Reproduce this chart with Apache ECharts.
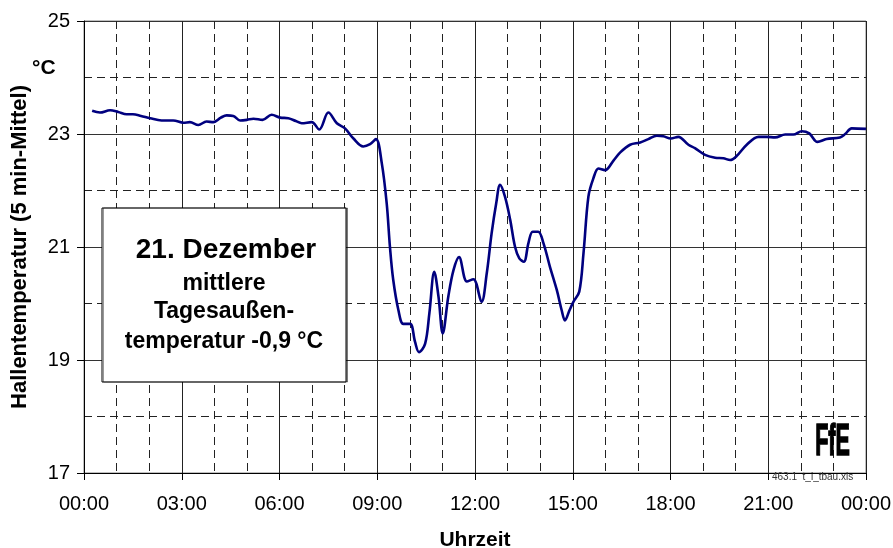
<!DOCTYPE html>
<html>
<head>
<meta charset="utf-8">
<script src="https://cdn.jsdelivr.net/npm/echarts@6/dist/echarts.min.js"></script>
<style>
  html, body { margin: 0; padding: 0; background: #fff; }
  #chart { width: 893px; height: 548px; }
</style>
</head>
<body>
<div id="chart"></div>
<script>
// Hall temperature on 21 December, 5-minute means (time in hours since midnight)
const hours = [
  0.25, 0.49, 0.8, 1.05, 1.31, 1.5, 1.75, 2.03, 2.38, 2.74,
  3.05, 3.25, 3.51, 3.76, 3.97, 4.2, 4.38, 4.58, 4.79, 5.0,
  5.2, 5.48, 5.76, 6.02, 6.27, 6.5, 6.68, 6.99, 7.22, 7.5,
  7.76, 8.01, 8.27, 8.57, 8.78, 8.96, 9.14, 9.29, 9.39, 9.49,
  9.65, 9.8, 10.01, 10.16, 10.28, 10.47, 10.6, 10.75, 10.88, 11.01,
  11.18, 11.34, 11.51, 11.75, 11.95, 12.2, 12.36, 12.51, 12.65, 12.77,
  12.92, 13.08, 13.23, 13.36, 13.5, 13.64, 13.77, 13.94, 14.1, 14.3,
  14.51, 14.66, 14.76, 14.9, 15.02, 15.2, 15.33, 15.48, 15.63, 15.79,
  15.99, 16.25, 16.45, 16.76, 17.07, 17.32, 17.58, 17.78, 18.01, 18.24,
  18.55, 18.75, 19.06, 19.37, 19.62, 19.83, 20.03, 20.34, 20.7, 20.95,
  21.21, 21.52, 21.77, 22.03, 22.26, 22.51, 22.79, 23.2, 23.36, 23.56,
  24.0
];
const hallTemp = [
  23.41, 23.38, 23.42, 23.39, 23.35, 23.35, 23.32, 23.28, 23.24, 23.24,
  23.20, 23.21, 23.16, 23.22, 23.21, 23.29, 23.33, 23.32, 23.24, 23.25,
  23.27, 23.25, 23.34, 23.29, 23.28, 23.23, 23.19, 23.21, 23.08, 23.38,
  23.19, 23.10, 22.92, 22.78, 22.82, 22.91, 22.48, 21.77, 21.00, 20.42,
  19.88, 19.64, 19.64, 19.32, 19.14, 19.29, 19.83, 20.56, 20.12, 19.47,
  20.12, 20.59, 20.82, 20.39, 20.43, 20.03, 20.53, 21.24, 21.77, 22.10,
  21.89, 21.48, 21.00, 20.80, 20.74, 21.07, 21.27, 21.27, 21.07, 20.65,
  20.24, 19.88, 19.70, 19.88, 20.03, 20.21, 20.89, 21.89, 22.21, 22.39,
  22.36, 22.53, 22.67, 22.81, 22.85, 22.91, 22.97, 22.96, 22.92, 22.95,
  22.81, 22.75, 22.63, 22.58, 22.57, 22.54, 22.61, 22.81, 22.95, 22.95,
  22.94, 22.99, 22.99, 23.05, 23.01, 22.86, 22.91, 22.94, 23.00, 23.10,
  23.09
];

// Axis ranges and labels
const timeMin = 0, timeMax = 24, timeStep = 3;
const tempMin = 17, tempMax = 25, tempStep = 2;
const yTitle = 'Hallentemperatur (5 min-Mittel)';
const yUnit = '°C';
const xTitle = 'Uhrzeit';
const noteLines = ['21. Dezember', 'mittlere', 'Tagesaußen-', 'temperatur -0,9 °C'];
const fileTag = '463.1  t_i_tbau.xls';
const logoText = 'FfE';

const FONT = '"Liberation Sans", Arial, Helvetica, sans-serif';
const dash = [8, 5];

const chart = echarts.init(document.getElementById('chart'), null, { renderer: 'canvas' });

const seriesData = hours.map((h, i) => [h, hallTemp[i]]);

const fmtTime = v => {
  const h = Math.round(v) % 24;
  return (h < 10 ? '0' : '') + h + ':00';
};

chart.setOption({
  animation: false,
  backgroundColor: '#fff',
  textStyle: { fontFamily: FONT },
  grid: {
    left: 84, right: 27, top: 21, bottom: 75,
    outerBoundsMode: 'none',
    containLabel: false,
    show: true, borderColor: '#808080', borderWidth: 1, backgroundColor: 'transparent'
  },
  xAxis: {
    type: 'value',
    min: timeMin, max: timeMax, interval: timeStep,
    name: xTitle,
    nameLocation: 'middle',
    nameGap: 57,
    nameTextStyle: { fontFamily: FONT, fontSize: 21, fontWeight: 'bold', color: '#000' },
    axisLine: { show: true, lineStyle: { color: '#000', width: 1 } },
    axisTick: { show: true, length: 7, lineStyle: { color: '#000' } },
    axisLabel: { fontFamily: FONT, fontSize: 20, color: '#000', margin: 21, formatter: fmtTime },
    splitLine: { show: true, lineStyle: { color: '#222', width: 1 } },
    minorTick: { show: false, splitNumber: 3 },
    minorSplitLine: { show: true, lineStyle: { color: '#222', width: 1, type: dash } }
  },
  yAxis: {
    type: 'value',
    min: tempMin, max: tempMax, interval: tempStep,
    name: yTitle,
    nameLocation: 'middle',
    nameGap: 53,
    nameTextStyle: { fontFamily: FONT, fontSize: 22, fontWeight: 'bold', color: '#000' },
    axisLine: { show: true, lineStyle: { color: '#000', width: 1 } },
    axisTick: { show: true, length: 7, lineStyle: { color: '#000' } },
    axisLabel: { fontFamily: FONT, fontSize: 20, color: '#000', margin: 14 },
    splitLine: { show: true, lineStyle: { color: '#333', width: 1 } },
    minorTick: { show: false, splitNumber: 2 },
    minorSplitLine: { show: true, lineStyle: { color: '#222', width: 1, type: dash } }
  },
  series: [{
    type: 'line',
    data: seriesData,
    showSymbol: false,
    smooth: 0.35,
    lineStyle: { color: '#00007f', width: 2.6 },
    z: 5
  }],
  graphic: [
    {
      type: 'text', left: 32, top: 58, z: 10,
      style: { text: yUnit, font: 'bold 21px ' + FONT, fill: '#000' }
    },
    {
      type: 'rect', z: 10,
      shape: { x: 102, y: 208, width: 244, height: 174 },
      style: { fill: '#fff', stroke: '#000', lineWidth: 1,
               shadowColor: 'rgba(0,0,0,0.4)', shadowOffsetX: 1.5, shadowOffsetY: 0, shadowBlur: 0 }
    },
    {
      type: 'text', x: 226, y: 250, z: 11,
      style: { text: noteLines[0], font: 'bold 28px ' + FONT, fill: '#000', align: 'center', verticalAlign: 'middle' }
    },
    {
      type: 'text', x: 224, y: 284, z: 11,
      style: { text: noteLines[1], font: 'bold 23px ' + FONT, fill: '#000', align: 'center', verticalAlign: 'middle' }
    },
    {
      type: 'text', x: 224, y: 312, z: 11,
      style: { text: noteLines[2], font: 'bold 23px ' + FONT, fill: '#000', align: 'center', verticalAlign: 'middle' }
    },
    {
      type: 'text', x: 224, y: 342, z: 11,
      style: { text: noteLines[3], font: 'bold 23px ' + FONT, fill: '#000', align: 'center', verticalAlign: 'middle' }
    },
    {
      type: 'text', x: 832.5, y: 443, z: 11, scaleX: 0.49,
      style: { text: logoText, font: 'bold 44px ' + FONT, fill: '#000', stroke: '#000', lineWidth: 1.5,
               align: 'center', verticalAlign: 'middle' }
    },
    {
      type: 'text', x: 772, y: 477, z: 11,
      style: { text: fileTag, font: '10px ' + FONT, fill: '#333', align: 'left', verticalAlign: 'middle' }
    }
  ]
});
</script>
</body>
</html>
